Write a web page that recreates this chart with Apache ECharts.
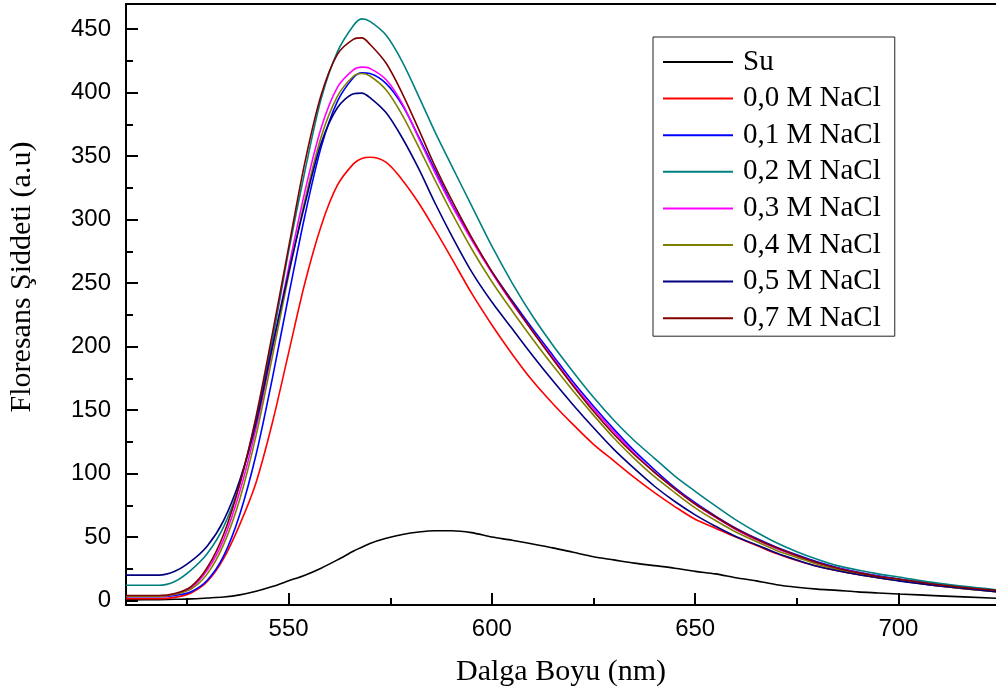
<!DOCTYPE html>
<html>
<head>
<meta charset="utf-8">
<script src="https://cdn.jsdelivr.net/npm/echarts@6/dist/echarts.min.js"></script>
<style>
html,body{margin:0;padding:0;background:#fff;}
#chart{width:996px;height:695px;}
</style>
</head>
<body>
<div id="chart"></div>
<script>
// Wavelength (nm)
const wavelength = [510,518,522,526,530,534,538,542,546,550,554,558,562,566,568,570,574,578,582,586,590,595,600,605,610,615,620,625,630,635,640,645,650,655,660,665,670,675,680,685,690,695,700,710,724];

const seriesNames = ['Su','0,0 M NaCl','0,1 M NaCl','0,2 M NaCl','0,3 M NaCl','0,4 M NaCl','0,5 M NaCl','0,7 M NaCl'];

const su      = [0.5,0.7,1,1.3,2,2.8,4.5,7.3,11,15.5, 20,25.5,32,39,42,45,49,52,54,55, 55,53.5,50,47.5,44.5,41.5,38,34.5,32,29.5, 27.5,25.5,23,21,18,15.5,12.5,10.5,9,8, 6.8,6,5.2,3.7,1.8];
const nacl00  = [1.5,1.5,2.5,6,15,33,60,93,140,195, 250,295,327,344,348,349,345,331,313,292, 270,242,217,194,173,155,138.5,123,110,97, 85,74,64,57,50,43.5,37,31.5,27,23.5, 20.5,18,15.8,11.5,7];
const nacl01  = [3,3,4,7,16,35,68,115,175,240, 303,357,393,412,415.5,415,407,390,365,339, 313,285,259,236,214,193,172,153,135,118, 103,89,77,66.5,57,49,42,36,30.5,26, 22.5,19.5,17,12.5,7.5];
const nacl02  = [12,12,15,24,37,58,92,143,205,275, 338,395,432,453,458,456,445,424,397,369, 343,311,279,250,224,201,180,160,142,126, 112,98,86,74.5,63.5,54,45.5,38.5,32.5,27.5, 24,21,18.5,13.5,8.5];
const nacl03  = [3.5,3.5,5,10,24,48,86,136,198,262, 322,372,404,418,420,419,410,391,364,337, 312,284,258,234,212,191,170,151,133,116, 101,88,76,65.5,56,48,41,35,29.5,25.5, 22,19,16.5,12,7.5];
const nacl04  = [3.5,3.5,5,9,21,44,80,130,192,256, 315,365,397,413,415,413,402,382,357,331, 306,277,251,228,206,185,165,146,128,112, 97.5,85,73,63,54,46.5,39.5,34,28.5,24.5, 21,18,16,11.5,7];
const nacl05  = [20,20,23,31,43,63,95,140,200,258, 312,360,388,399,399.5,396,384,364,340,313, 288,259,235,214,193,173,154,136,119,104, 90,78,67.5,58.5,50.5,44,37.5,32,27,23.5, 20.5,18,15.5,11.5,7];
const nacl07  = [4,4,5.5,11,26,52,92,145,210,278, 345,398,430,442,443,438,423,399,371,342, 316,286,259,235,212,190,169,149,131,115, 101,88,76,66,56.5,48.5,41.5,35.5,30,25.5, 22,19,17,12.5,8];

const xLabels = [550,600,650,700];
const xMinor = [525,575,625,675];
const yLabels = [0,50,100,150,200,250,300,350,400,450];
const yMinor = [25,75,125,175,225,275,325,375,425];

const colors = ['#000000','#ff0000','#0000ff','#008080','#ff00ff','#808000','#000080','#800000'];
const allData = [su,nacl00,nacl01,nacl02,nacl03,nacl04,nacl05,nacl07];

const chart = echarts.init(document.getElementById('chart'), null, {renderer:'canvas'});

const series = allData.map((arr,i)=>({
  name: seriesNames[i],
  type:'line',
  xAxisIndex:0, yAxisIndex:0,
  data: wavelength.map((w,j)=>[w,arr[j]]),
  showSymbol:false,
  smooth:0.3,
  lineStyle:{color:colors[i],width:1.6},
  itemStyle:{color:colors[i]},
  z: 2
}));

const sans = 'Liberation Sans, Arial, sans-serif';
const serif = 'Liberation Serif, Times New Roman, serif';

const option = {
  animation:false,
  backgroundColor:'#ffffff',
  grid:{left:126,right:0,top:4,bottom:90,containLabel:false,outerBoundsMode:'none'},
  xAxis:[
    {
      type:'value', min:510, max:724, position:'bottom',
      axisLine:{show:true,onZero:false,lineStyle:{color:'#000',width:2}},
      axisTick:{show:true,inside:true,length:12,customValues:xLabels,lineStyle:{color:'#000',width:2}},
      axisLabel:{show:true,customValues:xLabels,margin:12,color:'#000',fontFamily:sans,fontSize:24},
      splitLine:{show:false},
      name:'Dalga Boyu (nm)', nameLocation:'middle', nameGap:52,
      nameTextStyle:{color:'#000',fontFamily:serif,fontSize:30}
    },
    {
      type:'value', min:510, max:724, position:'bottom',
      axisLine:{show:false,onZero:false},
      axisTick:{show:true,inside:true,length:7,customValues:xMinor,lineStyle:{color:'#000',width:2}},
      axisLabel:{show:false},
      splitLine:{show:false}
    },
    {
      type:'value', min:510, max:724, position:'top',
      axisLine:{show:true,onZero:false,lineStyle:{color:'#000',width:2}},
      axisTick:{show:false}, axisLabel:{show:false}, splitLine:{show:false}
    }
  ],
  yAxis:[
    {
      type:'value', min:-3.5, max:469.7, position:'left',
      axisLine:{show:true,onZero:false,lineStyle:{color:'#000',width:2}},
      axisTick:{show:true,inside:true,length:12,customValues:yLabels,lineStyle:{color:'#000',width:2}},
      axisLabel:{show:true,customValues:yLabels,margin:15,color:'#000',fontFamily:sans,fontSize:24},
      splitLine:{show:false}
    },
    {
      type:'value', min:-3.5, max:469.7, position:'left',
      axisLine:{show:false,onZero:false},
      axisTick:{show:true,inside:true,length:7,customValues:yMinor,lineStyle:{color:'#000',width:2}},
      axisLabel:{show:false},
      splitLine:{show:false}
    }
  ],
  legend:{
    show:true,
    orient:'vertical',
    left:653, top:37,
    padding:[10,14,3,10],
    itemGap:6.6,
    itemWidth:70, itemHeight:2,
    icon:'rect',
    borderColor:'#222', borderWidth:1,
    backgroundColor:'#fff',
    textStyle:{color:'#000',fontFamily:serif,fontSize:29,lineHeight:30,padding:[0,0,0,5]},
    data:seriesNames
  },
  graphic:[
    {
      type:'text',
      x:22, y:277,
      rotation:Math.PI/2,
      style:{text:'Floresans Şiddeti (a.u)',fill:'#000',font:'30px '+serif,align:'center',verticalAlign:'middle'}
    }
  ],
  series: series
};

chart.setOption(option);
</script>
</body>
</html>
